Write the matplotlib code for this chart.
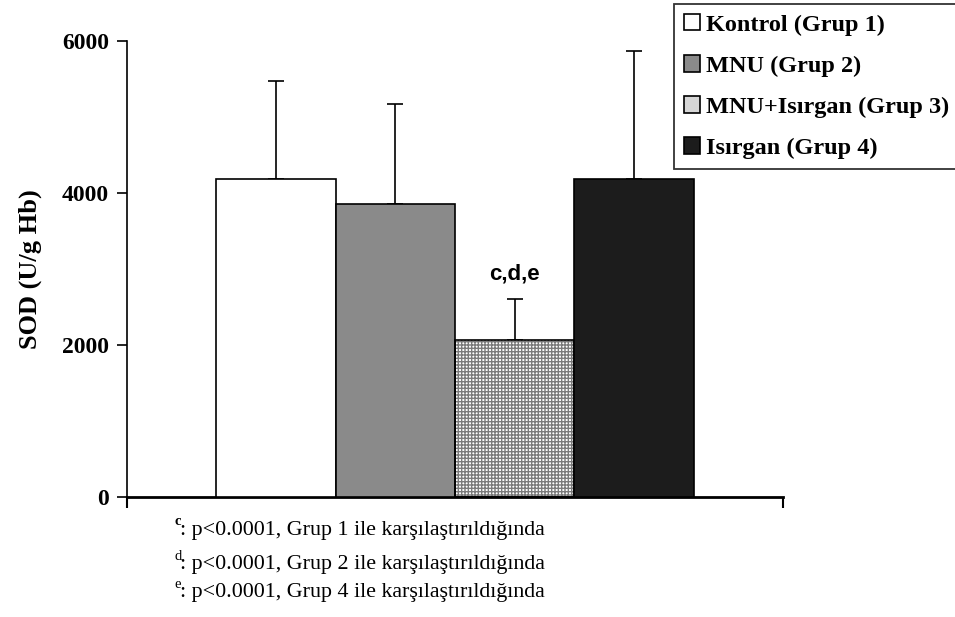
import numpy as np
import matplotlib
matplotlib.use("Agg")
import matplotlib.pyplot as plt
from matplotlib.patches import Patch

# ---- data ----
groups = ["Kontrol (Grup 1)", "MNU (Grup 2)", "MNU+Isırgan (Grup 3)", "Isırgan (Grup 4)"]
means = [4180, 3860, 2060, 4180]
sd_up = [1300, 1310, 545, 1695]
yticks = [0, 2000, 4000, 6000]
footnotes = [
    ("c", ": p<0.0001, Grup 1 ile karşılaştırıldığında"),
    ("d", ": p<0.0001, Grup 2 ile karşılaştırıldığında"),
    ("e", ": p<0.0001, Grup 4 ile karşılaştırıldığında"),
]

faces = ["white", "#8a8a8a", "white", "#1c1c1c"]
hatches = [None, None, "+++++", None]
hatch_cols = [None, None, "#7a7a7a", None]
legend_faces = ["white", "#8a8a8a", "#d6d6d6", "#1c1c1c"]

serif = "Liberation Serif"

fig = plt.figure(figsize=(9.55, 6.17), dpi=100)
ax = fig.add_axes([127 / 955, 1 - 497 / 617, (783 - 127) / 955, (497 - 41) / 617])

width = 1 / 5.5
xs = 0.5 + (np.arange(4) - 1.5) * width

for i in range(4):
    if hatches[i]:
        ax.bar(xs[i], means[i], width, color=faces[i], hatch=hatches[i],
               edgecolor=hatch_cols[i], linewidth=0, zorder=2)
        ax.bar(xs[i], means[i], width, fill=False, edgecolor="black", linewidth=1.2, zorder=3)
    else:
        ax.bar(xs[i], means[i], width, color=faces[i], edgecolor="black", linewidth=1.2, zorder=3)

ax.errorbar(xs, means, yerr=[np.zeros(4), sd_up], fmt="none", ecolor="black",
            elinewidth=1.2, capsize=5.5, capthick=1.2, zorder=1)

ax.text(xs[2], means[2] + sd_up[2] + 330, "c,d,e", ha="center", va="center",
        fontsize=16, fontweight="bold", family="Liberation Sans")

ax.set_xlim(0, 1)
ax.set_ylim(0, 6000)
ax.set_yticks(yticks)
ax.set_yticklabels([str(t) for t in yticks], fontsize=17, fontweight="bold", family=serif)
ax.tick_params(axis="y", direction="out", length=7, width=1.2, pad=6)
ax.set_xticks([])
ax.set_xticks([0, 1], minor=True)
ax.tick_params(axis="x", which="minor", direction="out", length=8, width=1.5)
ax.set_ylabel("SOD (U/g Hb)", fontsize=19, fontweight="bold", family=serif, labelpad=14)

for s in ["top", "right"]:
    ax.spines[s].set_visible(False)
ax.spines["left"].set_linewidth(1.2)
ax.spines["bottom"].set_linewidth(2)

handles = [Patch(facecolor=legend_faces[i], edgecolor="black", linewidth=1.2) for i in range(4)]
leg = fig.legend(handles, groups, loc="upper left", bbox_to_anchor=(674 / 955, 1 - 4 / 617),
                 prop={"family": serif, "weight": "bold", "size": 17.5},
                 handlelength=0.65, handleheight=0.65, handletextpad=0.25,
                 labelspacing=0.8, borderpad=0.42, borderaxespad=0, fancybox=False,
                 frameon=True)
leg.get_frame().set_edgecolor("black")
leg.get_frame().set_linewidth(1.3)

ys = [530, 565, 593]
for (sup, txt), y in zip(footnotes, ys):
    yy = 1 - y / 617
    fig.text(174 / 955, yy + 0.013, sup, fontsize=10.5, family=serif,
             fontweight="bold" if sup == "c" else "normal", ha="left", va="center")
    fig.text(180 / 955, yy, txt, fontsize=15.8, family=serif, ha="left", va="center")

fig.savefig("out.png", dpi=100)
